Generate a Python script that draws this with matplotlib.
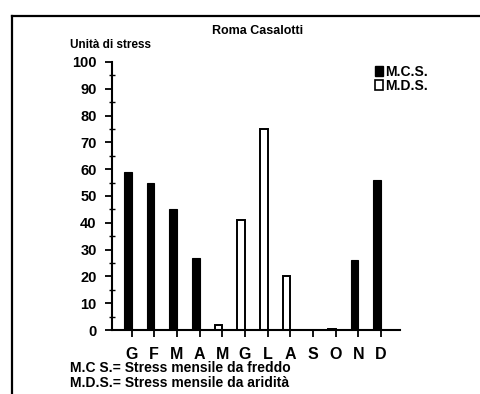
import matplotlib.pyplot as plt
from matplotlib.lines import Line2D
from matplotlib.patches import Patch
import numpy as np

# monthly stress units, Roma Casalotti
months = ["G", "F", "M", "A", "M", "G", "L", "A", "S", "O", "N", "D"]
mcs = [59, 55, 45, 27, 0, 0, 0, 0, 0, 0, 26, 56]      # cold stress
mds = [0, 0, 0, 0, 2, 41, 75, 20, 0, 0.5, 0, 0]       # drought stress

plt.rcParams['font.family'] = ['Liberation Sans', 'DejaVu Sans']

fig = plt.figure(figsize=(4.81, 3.94), dpi=100)
W, H = 481, 394

# axes placed in pixel coordinates of the original
ax = fig.add_axes([112 / W, 1 - 330 / H, 288 / W, 268 / H])

x = np.arange(len(months))
bw = 0.33
mcs_x = [i for i, v in zip(x, mcs) if v > 0]
mcs_v = [v for v in mcs if v > 0]
mds_x = [i for i, v in zip(x, mds) if v > 0]
mds_v = [v for v in mds if v > 0]
ax.bar(np.array(mcs_x) - bw, mcs_v, width=bw, align='edge', color='black',
       edgecolor='black', linewidth=0.8)
ax.bar(np.array(mds_x) - bw, mds_v, width=bw, align='edge', color='white',
       edgecolor='black', linewidth=1.4)

ax.set_xlim(-0.86, 11.84)
ax.set_ylim(0, 100)
ax.set_yticks(range(0, 101, 10))
ax.set_yticks(range(5, 100, 10), minor=True)
ax.set_xticks(x)
ax.set_xticklabels(months, fontsize=11.5, fontweight='bold')
ax.tick_params(axis='y', which='major', direction='out', length=5, width=1.3,
               labelsize=10.5, pad=6)
ax.tick_params(axis='y', which='minor', direction='inout', length=4, width=1)
ax.tick_params(axis='x', direction='out', length=5, width=1.3, pad=7)
for lbl in ax.get_yticklabels():
    lbl.set_fontweight('bold')

for s in ['top', 'right']:
    ax.spines[s].set_visible(False)
ax.spines['left'].set_linewidth(1.5)
ax.spines['bottom'].set_linewidth(1.5)

handles = [Patch(facecolor='black', edgecolor='black', label='M.C.S.'),
           Patch(facecolor='white', edgecolor='black', linewidth=1.2, label='M.D.S.')]
ax.legend(handles=handles, loc='upper left', bbox_to_anchor=(375 / W, 1 - 65 / H),
          bbox_transform=fig.transFigure, frameon=False, handlelength=0.6,
          handleheight=0.8, handletextpad=0.15, labelspacing=0.0,
          borderaxespad=0, borderpad=0,
          prop={'size': 10, 'weight': 'bold'})

fig.text(258 / W, 1 - 31 / H, "Roma Casalotti", ha='center', va='center',
         fontsize=9, fontweight='bold')
fig.text(70 / W, 1 - 45 / H, "Unità di stress", ha='left', va='center',
         fontsize=8.5, fontweight='bold')
fig.text(70 / W, 1 - 368 / H, "M.C S.= Stress mensile da freddo", ha='left',
         va='center', fontsize=10, fontweight='bold')
fig.text(70 / W, 1 - 383 / H, "M.D.S.= Stress mensile da aridità", ha='left',
         va='center', fontsize=10, fontweight='bold')

# page frame (left and top edges)
fig.add_artist(Line2D([12 / W, 12 / W], [0, 1 - 16 / H], color='black', lw=1.6,
                      transform=fig.transFigure))
fig.add_artist(Line2D([12 / W, 1], [1 - 16 / H, 1 - 16 / H], color='black', lw=1.6,
                      transform=fig.transFigure))

fig.savefig("out.png", dpi=100)
